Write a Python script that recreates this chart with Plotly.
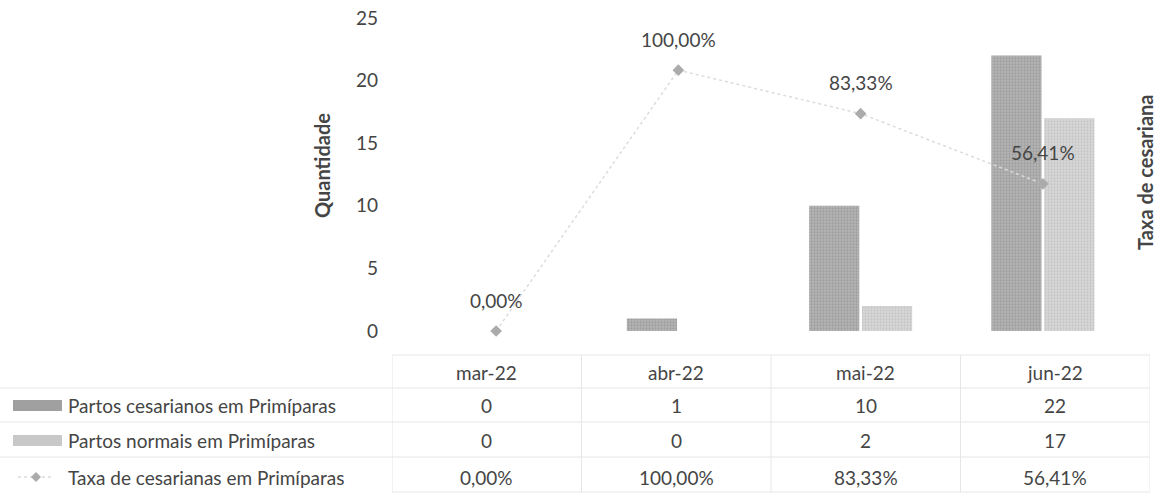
import plotly.graph_objects as go

# ---- data ----
months = ["mar-22", "abr-22", "mai-22", "jun-22"]
cesareas = [0, 1, 10, 22]
normais = [0, 0, 2, 17]
taxa = [0.0, 1.0, 0.8333, 0.5641]

name_ces = "Partos cesarianos em Primíparas"
name_nor = "Partos normais em Primíparas"
name_tax = "Taxa de cesarianas em Primíparas"

FONT = "Lato"
TXT = "#454545"
FS = 19

W, H = 1158, 494
T, B = 18, 163
PH = H - T - B


def px_x(px):
    return px / W


def px_y(py):
    return (H - B - py) / PH


def pct(v):
    return f"{v * 100:.2f}".replace(".", ",") + "%"


fig = go.Figure()

fig.add_trace(go.Bar(
    x=months, y=cesareas, name=name_ces,
    marker=dict(color="#9c9c9c",
                pattern=dict(shape=".", fgcolor="#868686", bgcolor="#b6b6b6", size=3, solidity=0.45),
                line=dict(width=0)),
))
fig.add_trace(go.Bar(
    x=months, y=normais, name=name_nor,
    marker=dict(color="#c6c6c6",
                pattern=dict(shape=".", fgcolor="#b4b4b4", bgcolor="#d8d8d8", size=3, solidity=0.45),
                line=dict(width=0)),
))
fig.add_trace(go.Scatter(
    x=months, y=taxa, name=name_tax, yaxis="y2",
    mode="lines+markers", cliponaxis=False,
    line=dict(color="#dcdcdc", width=1.5, dash="dot"),
    marker=dict(symbol="diamond", size=9, color="#ababab"),
))
# invisible trace to set up the data-table axis
fig.add_trace(go.Scatter(
    x=months, y=[0] * len(months), xaxis="x2", yaxis="y",
    mode="markers", marker=dict(opacity=0), hoverinfo="skip", showlegend=False,
))

annotations = []
# data labels for the rate line
for m, v in zip(months, taxa):
    annotations.append(dict(x=m, y=v, xref="x", yref="y2", yshift=31, text=pct(v),
                            xanchor="center", yanchor="middle",
                            showarrow=False, font=dict(family=FONT, size=FS, color=TXT)))

# axis titles
annotations.append(dict(x=px_x(322), y=px_y(166), xref="paper", yref="paper", text="<b>Quantidade</b>",
                        xanchor="center", yanchor="middle",
                        textangle=-90, showarrow=False, font=dict(family=FONT, size=20, color=TXT)))
annotations.append(dict(x=px_x(1145), y=px_y(173), xref="paper", yref="paper", text="<b>Taxa de cesariana</b>",
                        xanchor="center", yanchor="middle",
                        textangle=-90, showarrow=False, font=dict(family=FONT, size=20, color=TXT)))

# data table
row_y = [px_y(372), px_y(405), px_y(440), px_y(477)]
rows = [
    months,
    [str(v) for v in cesareas],
    [str(v) for v in normais],
    [pct(v) for v in taxa],
]
for ry, vals in zip(row_y, rows):
    for m, t in zip(months, vals):
        annotations.append(dict(x=m, y=ry, xref="x2", yref="paper", text=t, showarrow=False,
                                xanchor="center", yanchor="middle",
                                font=dict(family=FONT, size=FS, color=TXT)))

row_names = [name_ces, name_nor, name_tax]
for ry, nm in zip(row_y[1:], row_names):
    annotations.append(dict(x=px_x(66), y=ry, xref="paper", yref="paper", text=nm,
                            xanchor="left", yanchor="middle",
                            showarrow=False, font=dict(family=FONT, size=FS, color=TXT)))

shapes = []
GRID = "#e6e6e6"
# horizontal table lines
shapes.append(dict(type="line", xref="x2", yref="paper", x0=-0.5, x1=3.5, y0=px_y(355), y1=px_y(355),
                   line=dict(color=GRID, width=1)))
for py in (388, 422, 457):
    shapes.append(dict(type="line", xref="paper", yref="paper", x0=0, x1=px_x(1150), y0=px_y(py), y1=px_y(py),
                       line=dict(color=GRID, width=1)))
shapes.append(dict(type="line", xref="x2", yref="paper", x0=-0.5, x1=3.5, y0=px_y(492), y1=px_y(492),
                   line=dict(color=GRID, width=1)))
# vertical table lines
for xv in (-0.5, 0.5, 1.5, 2.5, 3.5):
    shapes.append(dict(type="line", xref="x2", yref="paper", x0=xv, x1=xv, y0=px_y(355), y1=px_y(492),
                       line=dict(color=GRID, width=1)))
# legend keys
shapes.append(dict(type="rect", xref="paper", yref="paper", x0=px_x(13), x1=px_x(62),
                   y0=px_y(411), y1=px_y(400), fillcolor="#a0a0a0", line=dict(width=0)))
shapes.append(dict(type="rect", xref="paper", yref="paper", x0=px_x(13), x1=px_x(62),
                   y0=px_y(446), y1=px_y(435), fillcolor="#c8c8c8", line=dict(width=0)))
shapes.append(dict(type="line", xref="paper", yref="paper", x0=px_x(18), x1=px_x(54),
                   y0=px_y(477), y1=px_y(477), line=dict(color="#dcdcdc", width=1.5, dash="dot")))
shapes.append(dict(type="path", xref="paper", yref="paper",
                   path=(f"M {px_x(36)} {px_y(472)} L {px_x(41)} {px_y(477)} "
                         f"L {px_x(36)} {px_y(482)} L {px_x(31)} {px_y(477)} Z"),
                   fillcolor="#ababab", line=dict(width=0)))

fig.update_layout(
    width=W, height=H,
    margin=dict(l=0, r=0, t=T, b=B),
    paper_bgcolor="white", plot_bgcolor="rgba(0,0,0,0)",
    showlegend=False,
    barmode="group", bargap=0.42, bargroupgap=0.05,
    font=dict(family=FONT, size=FS, color=TXT),
    xaxis=dict(domain=[px_x(405), px_x(1134)], showticklabels=False, showgrid=False,
               showline=False, zeroline=False, ticks=""),
    xaxis2=dict(domain=[px_x(392), px_x(1150)], anchor="y", type="category",
                categoryorder="array", categoryarray=months, range=[-0.5, 3.5],
                visible=False),
    yaxis=dict(range=[0, 25], dtick=5, showgrid=False, zeroline=False, showline=False,
               tickfont=dict(family=FONT, size=FS, color=TXT), ticklabelstandoff=26),
    yaxis2=dict(range=[0, 1.2], overlaying="y", side="right", showticklabels=False,
                showgrid=False, zeroline=False, showline=False),
    annotations=annotations,
    shapes=shapes,
)

fig.write_html("out.html", config={"displayModeBar": False},
               post_script="document.body.style.margin='0';")
